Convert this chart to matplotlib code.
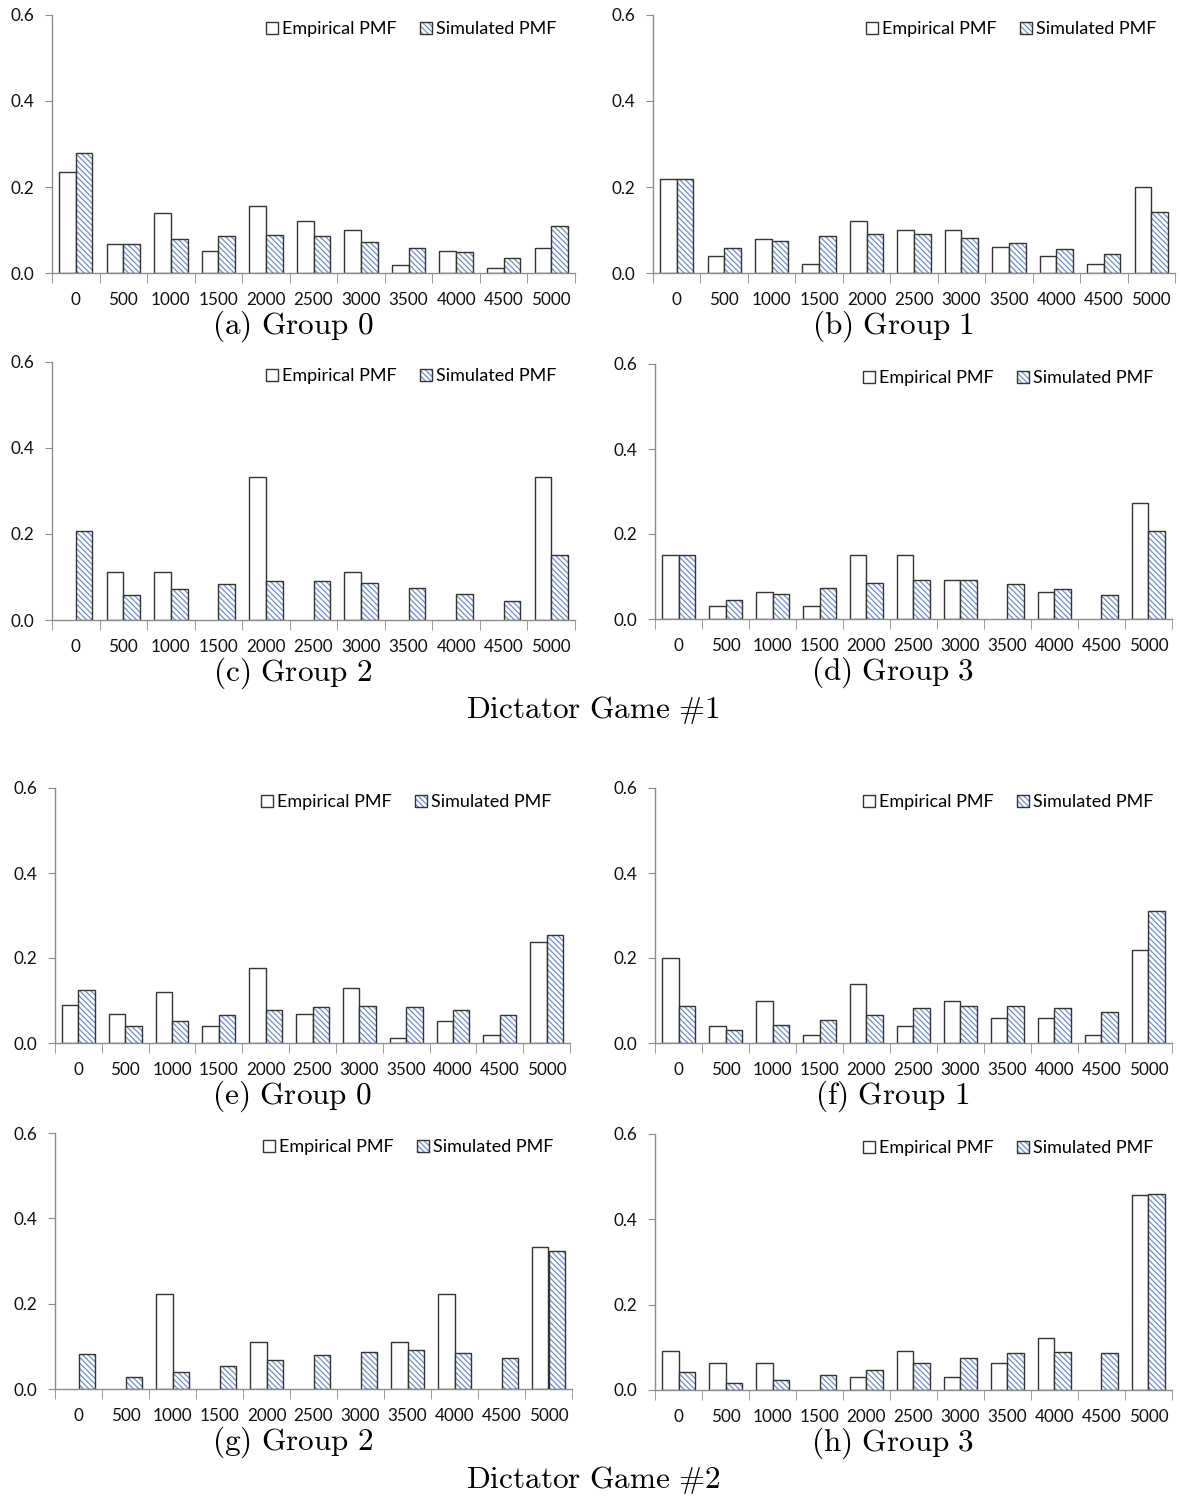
import numpy as np
import matplotlib.pyplot as plt
from matplotlib.patches import Patch

plt.rcParams['font.family'] = ['Lato', 'DejaVu Sans']
plt.rcParams['mathtext.fontset'] = 'cm'
plt.rcParams['hatch.linewidth'] = 0.9

amounts = ['0', '500', '1000', '1500', '2000', '2500', '3000',
           '3500', '4000', '4500', '5000']

# Dictator Game #1
emp_a = [0.236, 0.068, 0.140, 0.051, 0.156, 0.120, 0.100, 0.019, 0.051, 0.011, 0.059]
sim_a = [0.279, 0.068, 0.080, 0.085, 0.088, 0.085, 0.073, 0.059, 0.048, 0.036, 0.110]
emp_b = [0.219, 0.040, 0.080, 0.020, 0.120, 0.100, 0.100, 0.060, 0.040, 0.020, 0.199]
sim_b = [0.218, 0.059, 0.074, 0.085, 0.090, 0.090, 0.082, 0.070, 0.056, 0.045, 0.142]
emp_c = [0.0, 0.111, 0.111, 0.0, 0.333, 0.0, 0.111, 0.0, 0.0, 0.0, 0.333]
sim_c = [0.208, 0.057, 0.071, 0.083, 0.091, 0.091, 0.085, 0.074, 0.060, 0.045, 0.151]
emp_d = [0.151, 0.031, 0.063, 0.031, 0.151, 0.151, 0.091, 0.0, 0.063, 0.0, 0.274]
sim_d = [0.151, 0.045, 0.060, 0.074, 0.085, 0.091, 0.091, 0.082, 0.071, 0.056, 0.207]

# Dictator Game #2
emp_e = [0.089, 0.068, 0.119, 0.039, 0.177, 0.068, 0.129, 0.011, 0.051, 0.020, 0.237]
sim_e = [0.125, 0.039, 0.051, 0.065, 0.077, 0.085, 0.088, 0.085, 0.077, 0.065, 0.254]
emp_f = [0.200, 0.039, 0.100, 0.020, 0.140, 0.039, 0.100, 0.060, 0.060, 0.020, 0.220]
sim_f = [0.088, 0.031, 0.042, 0.054, 0.067, 0.082, 0.088, 0.088, 0.082, 0.074, 0.311]
emp_g = [0.0, 0.0, 0.222, 0.0, 0.111, 0.0, 0.0, 0.111, 0.222, 0.0, 0.333]
sim_g = [0.082, 0.027, 0.039, 0.054, 0.067, 0.079, 0.087, 0.091, 0.084, 0.073, 0.323]
emp_h = [0.091, 0.063, 0.063, 0.0, 0.031, 0.091, 0.031, 0.063, 0.123, 0.0, 0.458]
sim_h = [0.043, 0.017, 0.023, 0.034, 0.048, 0.063, 0.074, 0.086, 0.088, 0.086, 0.460]

captions = ['(a)\\ Group\\ 0', '(b)\\ Group\\ 1', '(c)\\ Group\\ 2', '(d)\\ Group\\ 3',
            '(e)\\ Group\\ 0', '(f)\\ Group\\ 1', '(g)\\ Group\\ 2', '(h)\\ Group\\ 3']

HATCH = '\\' * 6
BLUE = '#6f8fcc'
EDGE = '#333333'
SPINE = '#8c8c8c'
W, H = 1180, 1498

# axis boxes in pixels: x of y-axis, right end of x-axis, y of 0.6, y of 0.0
boxes = [(52, 575, 15, 273), (653, 1175, 15, 273),
         (52, 575, 362, 620), (655, 1172, 364, 619),
         (55, 570, 788, 1043), (655, 1172, 788, 1043),
         (55, 572, 1133, 1389), (655, 1172, 1134, 1390)]

fig = plt.figure(figsize=(W / 100, H / 100), dpi=100)


def draw_panel(box, emp, sim, cap):
    x0, x1, ytop, y0 = box
    ax = fig.add_axes([x0 / W, 1 - y0 / H, (x1 - x0) / W, (y0 - ytop) / H])
    x = np.arange(len(amounts))
    w = 0.35
    emp = np.asarray(emp)
    sim = np.asarray(sim)
    m = emp > 0
    ax.bar(x[m] - w / 2, emp[m], w, facecolor='white', edgecolor=EDGE, linewidth=1.0)
    ax.bar(x + w / 2, sim, w, facecolor='white', edgecolor=BLUE, hatch=HATCH, linewidth=0)
    ax.bar(x + w / 2, sim, w, fill=False, edgecolor=EDGE, linewidth=1.0)

    ax.set_xlim(-0.5, 10.5)
    ax.set_ylim(0, 0.6)
    ax.set_xticks(x)
    ax.set_xticklabels(amounts)
    ax.set_xticks(np.arange(-0.5, 11, 1), minor=True)
    ax.set_yticks([0, 0.2, 0.4, 0.6])
    ax.set_yticklabels(['0.0', '0.2', '0.4', '0.6'])
    ax.tick_params(axis='x', which='major', length=0, pad=14, labelsize=12.3, labelcolor='#111111')
    ax.tick_params(axis='x', which='minor', length=7, color=SPINE)
    ax.tick_params(axis='y', length=5, color=SPINE, pad=8, labelsize=12.3, labelcolor='#111111')
    for s in ['top', 'right']:
        ax.spines[s].set_visible(False)
    for s in ['left', 'bottom']:
        ax.spines[s].set_color(SPINE)
        ax.spines[s].set_linewidth(1.0)

    handles = [Patch(facecolor='white', edgecolor=EDGE, linewidth=1.0),
               (Patch(facecolor='white', edgecolor=BLUE, hatch=HATCH, linewidth=0),
                Patch(fill=False, edgecolor=EDGE, linewidth=1.0))]
    ax.legend(handles, ['Empirical PMF', 'Simulated PMF'], loc='upper right',
              bbox_to_anchor=(1 - 11 / (x1 - x0), 1 + 1 / (y0 - ytop)),
              ncol=2, frameon=False, fontsize=13, handlelength=0.65,
              handleheight=0.65, handletextpad=0.25, columnspacing=1.3,
              borderaxespad=0)

    cx = (x0 - 42 + x1) / 2
    fig.text(cx / W, 1 - (y0 + 53) / H, '$\\mathrm{' + cap + '}$',
             ha='center', va='center', fontsize=22.5)


panels = [(emp_a, sim_a), (emp_b, sim_b), (emp_c, sim_c), (emp_d, sim_d),
          (emp_e, sim_e), (emp_f, sim_f), (emp_g, sim_g), (emp_h, sim_h)]
for box, (emp, sim), cap in zip(boxes, panels, captions):
    draw_panel(box, emp, sim, cap)

fig.text(593 / W, 1 - 710 / H, r'$\mathrm{Dictator\ Game\ \#1}$', ha='center', va='center', fontsize=22.5)
fig.text(593 / W, 1 - 1480 / H, r'$\mathrm{Dictator\ Game\ \#2}$', ha='center', va='center', fontsize=22.5)

fig.savefig('out.png', dpi=100, facecolor='white')
